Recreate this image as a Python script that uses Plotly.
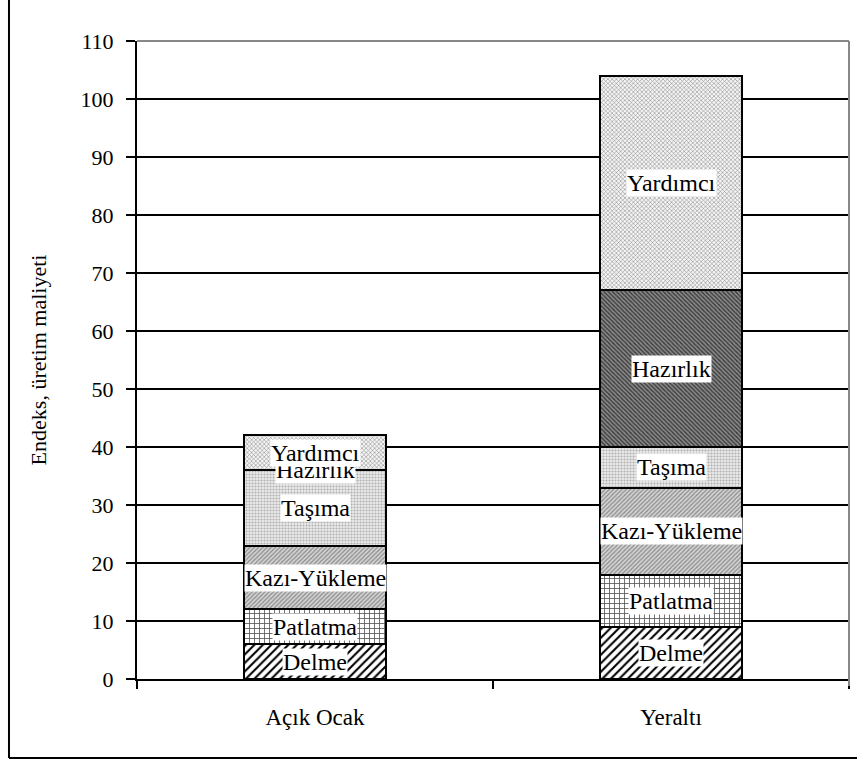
import plotly.graph_objects as go

categories = ["Açık Ocak", "Yeraltı"]
segments = ["Delme", "Patlatma", "Kazı-Yükleme", "Taşıma", "Hazırlık", "Yardımcı"]
delme = [6, 9]
patlatma = [6, 9]
kazi_yukleme = [11, 15]
tasima = [13, 7]
hazirlik = [0, 27]
yardimci = [6, 37]
y_ticks = list(range(0, 111, 10))

series = [delme, patlatma, kazi_yukleme, tasima, hazirlik, yardimci]
patterns = [
    dict(shape="/", fgcolor="#000000", bgcolor="#ffffff", size=6, solidity=0.35, fillmode="replace"),
    dict(shape="+", fgcolor="#555555", bgcolor="#ffffff", size=5, solidity=0.3, fillmode="replace"),
    dict(shape="/", fgcolor="#8a8a8a", bgcolor="#d4d4d4", size=3, solidity=0.4, fillmode="replace"),
    dict(shape=".", fgcolor="#b0b0b0", bgcolor="#ebebeb", size=3, solidity=0.4, fillmode="replace"),
    dict(shape="\\", fgcolor="#3a3a3a", bgcolor="#8a8a8a", size=3, solidity=0.45, fillmode="replace"),
    dict(shape="x", fgcolor="#7a7a7a", bgcolor="#f4f4f4", size=3, solidity=0.3, fillmode="replace"),
]

FONT = "Liberation Serif"
fig = go.Figure()
for name, vals, pat in zip(segments, series, patterns):
    fig.add_trace(go.Bar(
        x=categories, y=vals, name=name, width=0.4,
        marker=dict(color="#ffffff", pattern=pat, line=dict(color="#000000", width=2)),
        showlegend=False,
    ))

annotations = []
for ci, cat in enumerate(categories):
    base = 0
    for name, vals in zip(segments, series):
        v = vals[ci]
        annotations.append(dict(
            x=cat, y=base + v / 2, xref="x", yref="y", text=name, showarrow=False,
            font=dict(family=FONT, size=24, color="#000000"), bgcolor="#ffffff", borderpad=0,
        ))
        base += v

fig.update_layout(
    width=857, height=761,
    margin=dict(l=137, r=8, t=41, b=82),
    barmode="stack", bargap=0.6,
    paper_bgcolor="#ffffff", plot_bgcolor="#ffffff",
    font=dict(family=FONT, size=22, color="#000000"),
    annotations=annotations,
    xaxis=dict(
        showline=True, linecolor="#000000", linewidth=2,
        ticks="outside", tickson="boundaries", ticklen=8, tickwidth=2, tickcolor="#000000",
        tickfont=dict(family=FONT, size=23), showgrid=False, ticklabelstandoff=16,
    ),
    yaxis=dict(
        range=[0, 110], tickvals=y_ticks, showline=True, linecolor="#000000", linewidth=2,
        ticks="outside", ticklen=9, tickwidth=1.5, tickcolor="#000000", ticklabelstandoff=8,
        showgrid=True, gridcolor="#000000", gridwidth=1.5, zeroline=False,
        tickfont=dict(family=FONT, size=22),
        title=dict(text="Endeks, üretim maliyeti", font=dict(family=FONT, size=22), standoff=28),
    ),
    shapes=[
        dict(type="line", xref="paper", yref="paper", x0=0, x1=1, y0=1, y1=1,
             line=dict(color="#888888", width=2), layer="above"),
        dict(type="line", xref="paper", yref="paper", x0=1, x1=1, y0=1, y1=-0.011,
             line=dict(color="#888888", width=2), layer="above"),
        dict(type="line", xref="paper", yref="paper", x0=-0.1798, x1=-0.1798, y0=1.07, y1=-0.1238,
             line=dict(color="#000000", width=2)),
        dict(type="line", xref="paper", yref="paper", x0=-0.1798, x1=1.02, y0=-0.1238, y1=-0.1238,
             line=dict(color="#000000", width=2)),
    ],
)

fig.write_html("out.html")
